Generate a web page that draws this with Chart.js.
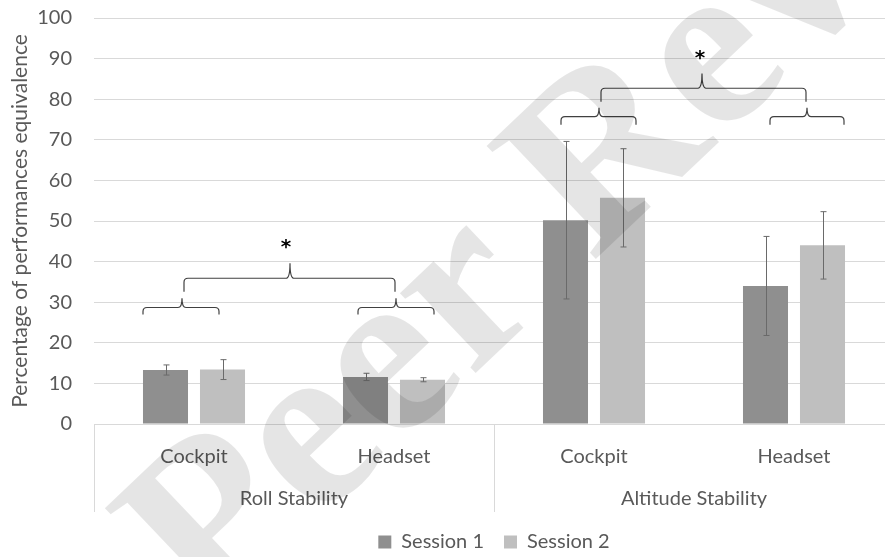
<!DOCTYPE html>
<html>
  <head>
    <meta charset="utf-8">
    <title>Performance equivalence</title>
    <script src="https://cdn.jsdelivr.net/npm/chart.js@4.4.0/dist/chart.umd.min.js"></script>
    <style>
      body { margin: 0; overflow: hidden; background: #fff; }
    </style>
  </head>
  <body>
    <canvas id="chart" width="900" height="557"></canvas>

    <script type="text/javascript">
    var labels = ["Cockpit", "Headset", "Cockpit", "Headset"]
    var groups = ["Roll Stability", "Altitude Stability"]
    var session1 = [13.3, 11.6, 50.2, 34.0]
    var session2 = [13.4, 10.9, 55.7, 44.0]
    var err1 = [1.25, 0.9, 19.4, 12.2]
    var err2 = [2.45, 0.5, 12.1, 8.3]
    var yTicks = [0, 10, 20, 30, 40, 50, 60, 70, 80, 90, 100]

    // braces: x in category units, y in data units
    var braces = [
      {x1: -0.255, x2: 0.125, tip: -0.06, end: 27.0, line: 28.7, top: 31.0},
      {x1: 0.82, x2: 1.2, tip: 1.01, end: 27.0, line: 28.7, top: 31.0},
      {x1: -0.05, x2: 1.005, tip: 0.48, end: 32.6, line: 35.9, top: 39.6},
      {x1: 1.835, x2: 2.21, tip: 2.025, end: 73.7, line: 75.7, top: 77.9},
      {x1: 2.88, x2: 3.25, tip: 3.065, end: 73.7, line: 75.7, top: 77.9},
      {x1: 2.035, x2: 3.06, tip: 2.54, end: 79.4, line: 82.7, top: 86.3}
    ]
    var stars = [{x: 0.46, y: 44.3}, {x: 2.53, y: 90.9}]

    var textColor = "#595959"
    var font = "Lato, 'Open Sans', sans-serif"
    colors = ["#8f8f8f", "#bfbfbf"]

    var extras = {
      id: "extras",
      afterDatasetsDraw: function(chart) {
        var ctx = chart.ctx
        var xs = chart.scales.x, ys = chart.scales.y
        var area = chart.chartArea
        ctx.save()

        // error bars
        ctx.strokeStyle = "#6a6a6a"
        ctx.lineWidth = 1
        ;[err1, err2].forEach(function(errs, d) {
          var vals = d == 0 ? session1 : session2
          chart.getDatasetMeta(d).data.forEach(function(bar, i) {
            var x = Math.round(bar.x) + 0.5
            var yHi = ys.getPixelForValue(vals[i] + errs[i])
            var yLo = ys.getPixelForValue(vals[i] - errs[i])
            ctx.beginPath()
            ctx.moveTo(x, yHi); ctx.lineTo(x, yLo)
            ctx.moveTo(x - 3, yHi); ctx.lineTo(x + 3, yHi)
            ctx.moveTo(x - 3, yLo); ctx.lineTo(x + 3, yLo)
            ctx.stroke()
          })
        })

        // braces
        ctx.strokeStyle = "#404040"
        ctx.lineWidth = 1.2
        braces.forEach(function(b) {
          var x1 = xs.getPixelForValue(b.x1), x2 = xs.getPixelForValue(b.x2)
          var xt = xs.getPixelForValue(b.tip)
          var ye = ys.getPixelForValue(b.end), yl = ys.getPixelForValue(b.line)
          var yt = ys.getPixelForValue(b.top)
          var r = 4
          ctx.beginPath()
          ctx.moveTo(x1, ye)
          ctx.lineTo(x1, yl + r)
          ctx.quadraticCurveTo(x1, yl, x1 + r, yl)
          ctx.lineTo(xt - r, yl)
          ctx.quadraticCurveTo(xt, yl, xt, yt)
          ctx.quadraticCurveTo(xt, yl, xt + r, yl)
          ctx.lineTo(x2 - r, yl)
          ctx.quadraticCurveTo(x2, yl, x2, yl + r)
          ctx.lineTo(x2, ye)
          ctx.stroke()
        })

        // asterisks
        ctx.fillStyle = "#000"
        ctx.font = "bold 20px 'DejaVu Sans', sans-serif"
        ctx.textAlign = "center"
        ctx.textBaseline = "alphabetic"
        stars.forEach(function(s) {
          var m = ctx.measureText("*")
          var cy = ys.getPixelForValue(s.y)
          var off = (m.actualBoundingBoxAscent - m.actualBoundingBoxDescent) / 2
          ctx.fillText("*", xs.getPixelForValue(s.x), cy + off)
        })

        // category separators and group labels
        ctx.strokeStyle = "#d9d9d9"
        ctx.lineWidth = 1
        ;[-0.5, 1.5, 3.5].forEach(function(v) {
          var x = Math.round(xs.getPixelForValue(v)) + 0.5
          ctx.beginPath()
          ctx.moveTo(x, area.bottom); ctx.lineTo(x, area.bottom + 88)
          ctx.stroke()
        })
        ctx.fillStyle = textColor
        ctx.font = "20px " + font
        ctx.textBaseline = "middle"
        groups.forEach(function(g, i) {
          ctx.fillText(g, xs.getPixelForValue(i * 2 + 0.5), area.bottom + 75)
        })
        ctx.restore()
      },
      afterDraw: function(chart) {
        // "Peer Review" watermark on top
        var ctx = chart.ctx
        ctx.save()
        ctx.translate(210, 625)
        ctx.rotate(-43.5 * Math.PI / 180)
        ctx.fillStyle = "rgba(0,0,0,0.1)"
        ctx.font = "bold 240px 'Liberation Serif', 'DejaVu Serif', serif"
        ctx.textAlign = "left"
        ctx.textBaseline = "alphabetic"
        ctx.fillText("Peer Review", 0, 0)
        ctx.restore()
      }
    }

    var chart = new Chart(document.getElementById("chart"), {
      type: "bar",
      data: {
        labels: labels,
        datasets: [
          {label: "Session 1", data: session1, backgroundColor: colors[0]},
          {label: "Session 2", data: session2, backgroundColor: colors[1]}
        ]
      },
      options: {
        responsive: false,
        animation: false,
        categoryPercentage: 0.57,
        barPercentage: 0.79,
        layout: {padding: {top: 18, right: 6, left: 0, bottom: -5}},
        plugins: {
          tooltip: {enabled: false},
          legend: {
            position: "bottom",
            fullSize: false,
            labels: {
              color: textColor,
              font: {family: font, size: 20},
              boxWidth: 13,
              boxHeight: 13,
              padding: 20
            }
          }
        },
        scales: {
          x: {
            grid: {display: false},
            border: {display: false},
            ticks: {color: textColor, font: {family: font, size: 20}, padding: 13, maxRotation: 0},
            afterFit: function(scale) { scale.height = 88 }
          },
          y: {
            min: 0,
            max: 100,
            afterBuildTicks: function(scale) {
              scale.ticks = yTicks.map(function(v) { return {value: v} })
            },
            grid: {color: "#d9d9d9", drawTicks: true, tickLength: 19, tickColor: "rgba(0,0,0,0)"},
            border: {display: false},
            ticks: {color: textColor, font: {family: font, size: 20}, padding: 3},
            title: {
              display: true,
              text: "Percentage of performances equivalence",
              color: textColor,
              font: {family: font, size: 21},
              padding: {top: 8, bottom: 0}
            },
            afterFit: function(scale) { scale.width = 94 }
          }
        }
      },
      plugins: [extras]
    });
    </script>
  </body>
</html>
